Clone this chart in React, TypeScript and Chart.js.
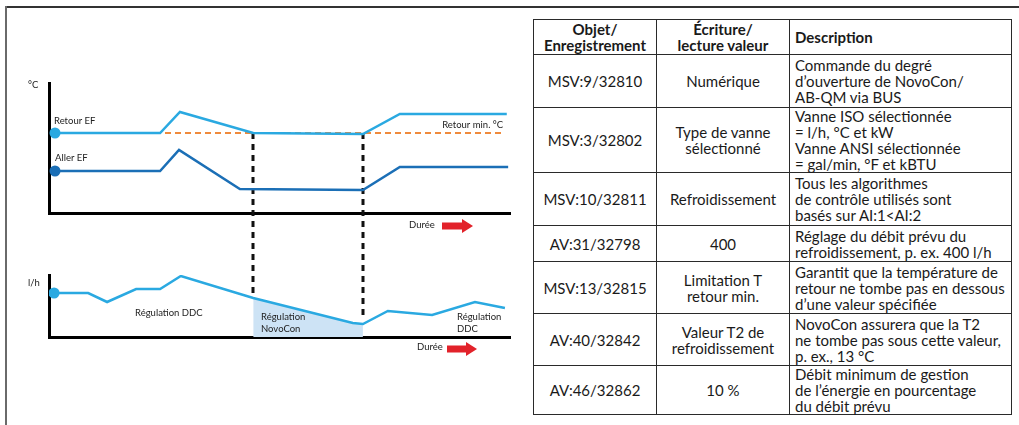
import React, { useEffect, useRef } from "react";
import { Chart, registerables } from "chart.js";
Chart.register(...registerables);

// ---------- Data (time axis in arbitrary units 0–100) ----------
const RETOUR_TIME = [1.3, 24.1, 28.4, 44.3, 68.1, 76.1, 99.3];
const RETOUR_EF = [80, 80, 101, 80, 79, 99, 99];
const ALLER_TIME = [1.3, 24.1, 28.2, 41.4, 68.1, 76.1, 99.6];
const ALLER_EF = [42, 42, 63, 24, 23, 46, 46];
const RETOUR_MIN_TIME = [1.3, 98.5];
const RETOUR_MIN = 80;

const FLOW_TIME = [1.1, 8.5, 12.6, 18.9, 24.1, 28.6, 44.3, 65.9, 68.1, 73.5, 83.1, 92.4, 98.9];
const FLOW = [44, 44, 35, 48, 48, 61, 39, 14, 13, 26, 22, 35, 29];

const NOVOCON_START = 44.3;
const NOVOCON_END = 68.1;

const TEMP_MAX = 130;
const FLOW_MAX = 62;

// ---------- Table ----------
const HEADERS = [["Objet/", "Enregistrement"], ["Écriture/", "lecture valeur"], ["Description"]];
const OBJECTS = ["MSV:9/32810", "MSV:3/32802", "MSV:10/32811", "AV:31/32798", "MSV:13/32815", "AV:40/32842", "AV:46/32862"];
const VALUES = [
  ["Numérique"],
  ["Type de vanne", "sélectionné"],
  ["Refroidissement"],
  ["400"],
  ["Limitation T", "retour min."],
  ["Valeur T2 de", "refroidissement"],
  ["10 %"],
];
const DESCRIPTIONS = [
  ["Commande du degré", "d’ouverture de NovoCon/", "AB-QM via BUS"],
  ["Vanne ISO sélectionnée", "= l/h, °C et kW", "Vanne ANSI sélectionnée", "= gal/min, °F et kBTU"],
  ["Tous les algorithmes", "de contrôle utilisés sont", "basés sur AI:1<AI:2"],
  ["Réglage du débit prévu du", "refroidissement, p. ex. 400 l/h"],
  ["Garantit que la température de", "retour ne tombe pas en dessous", "d’une valeur spécifiée"],
  ["NovoCon assurera que la T2", "ne tombe pas sous cette valeur,", "p. ex., 13 °C"],
  ["Débit minimum de gestion", "de l’énergie en pourcentage", "du débit prévu"],
];
const ROW_HEIGHTS = [35, 53, 65, 53, 36, 52, 52, 49];

const LIGHT_BLUE = "#2aa9e1";
const DARK_BLUE = "#1b6fb6";
const ORANGE = "#ef8a3c";
const FILL = "#cde3f5";
const RED = "#e2222a";
const LABEL_FONT = "9.5px Lato";
const LABEL_COLOR = "#222";

const pts = (xs: number[], ys: number[]) => xs.map((x, i) => ({ x, y: ys[i] }));

function drawArrow(ctx: CanvasRenderingContext2D, x: number, cy: number, len: number) {
  ctx.save();
  ctx.fillStyle = RED;
  const head = 10;
  ctx.fillRect(x, cy - 3.5, len - head, 7);
  ctx.beginPath();
  ctx.moveTo(x + len - head - 1, cy - 7);
  ctx.lineTo(x + len, cy);
  ctx.lineTo(x + len - head - 1, cy + 7);
  ctx.closePath();
  ctx.fill();
  ctx.restore();
}

function axisScales(yMax: number) {
  return {
    x: {
      type: "linear" as const,
      min: 0,
      max: 100,
      grid: { display: false },
      ticks: { display: false },
      border: { color: "#000", width: 3 },
      afterFit: (s: any) => {
        s.height = 0;
      },
    },
    y: {
      type: "linear" as const,
      min: 0,
      max: yMax,
      grid: { display: false },
      ticks: { display: false },
      border: { color: "#000", width: 3 },
      afterFit: (s: any) => {
        s.width = 0;
      },
    },
  };
}

const firstPoint = (r: number) => (c: any) => (c.dataIndex === 0 ? r : 0);

export default function App() {
  const topRef = useRef<HTMLCanvasElement>(null);
  const botRef = useRef<HTMLCanvasElement>(null);

  useEffect(() => {
    const topPlugin = {
      id: "topDecor",
      beforeDatasetsDraw(chart: any) {
        const { ctx, scales } = chart;
        const { x, y } = scales;
        ctx.save();
        ctx.strokeStyle = "#111";
        ctx.lineWidth = 3;
        ctx.setLineDash([6, 5]);
        [NOVOCON_START, NOVOCON_END].forEach((t) => {
          const px = Math.round(x.getPixelForValue(t));
          ctx.beginPath();
          ctx.moveTo(px, y.getPixelForValue(RETOUR_MIN));
          ctx.lineTo(px, chart.height);
          ctx.stroke();
        });
        ctx.restore();
      },
      afterDraw(chart: any) {
        const { ctx, chartArea: a, scales } = chart;
        const { x, y } = scales;
        ctx.save();
        ctx.font = LABEL_FONT;
        ctx.fillStyle = LABEL_COLOR;
        ctx.textBaseline = "middle";
        ctx.textAlign = "left";
        ctx.fillText("°C", a.left - 21, a.top + 2);
        ctx.fillText("Retour EF", x.getPixelForValue(RETOUR_TIME[0]) - 1, y.getPixelForValue(RETOUR_EF[0]) - 12);
        ctx.fillText("Aller EF", x.getPixelForValue(ALLER_TIME[0]), y.getPixelForValue(ALLER_EF[0]) - 13);
        ctx.textAlign = "right";
        ctx.fillText("Retour min. °C", x.getPixelForValue(RETOUR_MIN_TIME[1]), y.getPixelForValue(RETOUR_MIN) - 8);
        ctx.textAlign = "left";
        ctx.fillText("Durée", 409, a.bottom + 12);
        drawArrow(ctx, 442, a.bottom + 13, 31);
        ctx.restore();
      },
    };

    const botPlugin = {
      id: "botDecor",
      beforeDatasetsDraw(chart: any) {
        const { ctx, scales } = chart;
        const { x, y } = scales;
        ctx.save();
        ctx.strokeStyle = "#111";
        ctx.lineWidth = 3;
        ctx.setLineDash([6, 5]);
        ctx.lineDashOffset = 6;
        [NOVOCON_START, NOVOCON_END].forEach((t) => {
          const i = FLOW_TIME.indexOf(t);
          const px = Math.round(x.getPixelForValue(t));
          ctx.beginPath();
          ctx.moveTo(px, 0);
          ctx.lineTo(px, y.getPixelForValue(FLOW[i]) - 4);
          ctx.stroke();
        });
        ctx.restore();
      },
      afterDraw(chart: any) {
        const { ctx, chartArea: a } = chart;
        ctx.save();
        ctx.font = LABEL_FONT;
        ctx.fillStyle = LABEL_COLOR;
        ctx.textBaseline = "middle";
        ctx.textAlign = "left";
        ctx.fillText("l/h", a.left - 21, a.top + 8);
        ctx.fillText("Régulation DDC", 135, a.top + 38);
        ctx.fillText("Régulation", 261, a.top + 42);
        ctx.fillText("NovoCon", 261, a.top + 54);
        ctx.fillText("Régulation", 457, a.top + 42);
        ctx.fillText("DDC", 457, a.top + 54);
        ctx.fillText("Durée", 417, a.bottom + 10);
        drawArrow(ctx, 447, a.bottom + 12, 30);
        ctx.restore();
      },
    };

    const common = {
      animation: false as const,
      responsive: false,
      maintainAspectRatio: false,
      plugins: { legend: { display: false }, tooltip: { enabled: false } },
      elements: { line: { tension: 0 } },
    };

    const top = new Chart(topRef.current!, {
      type: "line",
      data: {
        datasets: [
          {
            label: "Retour EF",
            data: pts(RETOUR_TIME, RETOUR_EF),
            borderColor: LIGHT_BLUE,
            backgroundColor: LIGHT_BLUE,
            borderWidth: 2.5,
            pointRadius: firstPoint(5.5),
            pointBorderWidth: 0,
            order: 1,
          },
          {
            label: "Aller EF",
            data: pts(ALLER_TIME, ALLER_EF),
            borderColor: DARK_BLUE,
            backgroundColor: DARK_BLUE,
            borderWidth: 2.5,
            pointRadius: firstPoint(5.5),
            pointBorderWidth: 0,
            order: 1,
          },
          {
            label: "Retour min. °C",
            data: RETOUR_MIN_TIME.map((x) => ({ x, y: RETOUR_MIN })),
            borderColor: ORANGE,
            borderWidth: 2,
            borderDash: [6, 4],
            pointRadius: 0,
            order: 2,
          },
        ],
      },
      options: {
        ...common,
        layout: { padding: { left: 49, right: 15, top: 83, bottom: 47 } },
        scales: axisScales(TEMP_MAX),
      },
      plugins: [topPlugin],
    } as any);

    const novo = pts(FLOW_TIME, FLOW).filter((p) => p.x >= NOVOCON_START && p.x <= NOVOCON_END);

    const bot = new Chart(botRef.current!, {
      type: "line",
      data: {
        datasets: [
          {
            label: "Débit",
            data: pts(FLOW_TIME, FLOW),
            borderColor: LIGHT_BLUE,
            backgroundColor: LIGHT_BLUE,
            borderWidth: 2.5,
            pointRadius: firstPoint(5.5),
            pointBorderWidth: 0,
            order: 1,
          },
          {
            label: "Régulation NovoCon",
            data: novo,
            borderWidth: 0,
            borderColor: "rgba(0,0,0,0)",
            backgroundColor: FILL,
            fill: "origin",
            pointRadius: 0,
            order: 3,
          },
        ],
      },
      options: {
        ...common,
        layout: { padding: { left: 49, right: 15, top: 15, bottom: 88 } },
        scales: axisScales(FLOW_MAX),
      },
      plugins: [botPlugin],
    } as any);

    return () => {
      top.destroy();
      bot.destroy();
    };
  }, []);

  const cell: React.CSSProperties = {
    border: "1.5px solid #2a2a2a",
    padding: "0 5px",
    verticalAlign: "middle",
    whiteSpace: "nowrap",
    lineHeight: "16px",
  };

  return (
    <div
      style={{
        position: "fixed",
        left: 0,
        top: 0,
        width: 1019,
        height: 425,
        background: "#fff",
        overflow: "hidden",
        fontFamily: "Lato, 'Noto Sans', sans-serif",
        color: "#1a1a1a",
      }}
    >
      <div style={{ position: "absolute", left: 5, top: 6, width: 1014, height: 1.5, background: "#333" }} />
      <div style={{ position: "absolute", left: 5, top: 6, width: 2, height: 419, background: "#6a6a6a" }} />
      <canvas
        ref={topRef}
        width={525}
        height={260}
        style={{ position: "absolute", left: 0, top: 0, width: 525, height: 260 }}
      />
      <canvas
        ref={botRef}
        width={525}
        height={165}
        style={{ position: "absolute", left: 0, top: 260, width: 525, height: 165 }}
      />
      <table
        style={{
          position: "absolute",
          left: 533,
          top: 19,
          width: 478,
          borderCollapse: "collapse",
          tableLayout: "fixed",
          fontSize: 15,
        }}
      >
        <colgroup>
          <col style={{ width: 123 }} />
          <col style={{ width: 133 }} />
          <col style={{ width: 222 }} />
        </colgroup>
        <tbody>
          <tr style={{ height: ROW_HEIGHTS[0] }}>
            {HEADERS.map((h, i) => (
              <td
                key={i}
                style={{ ...cell, fontWeight: 700, textAlign: i < 2 ? "center" : "left" }}
              >
                {h.map((l, j) => (
                  <React.Fragment key={j}>
                    {j > 0 && <br />}
                    {l}
                  </React.Fragment>
                ))}
              </td>
            ))}
          </tr>
          {OBJECTS.map((o, r) => (
            <tr key={r} style={{ height: ROW_HEIGHTS[r + 1] }}>
              <td style={{ ...cell, textAlign: "center" }}>{o}</td>
              <td style={{ ...cell, textAlign: "center" }}>
                {VALUES[r].map((l, j) => (
                  <React.Fragment key={j}>
                    {j > 0 && <br />}
                    {l}
                  </React.Fragment>
                ))}
              </td>
              <td style={{ ...cell, textAlign: "left" }}>
                {DESCRIPTIONS[r].map((l, j) => (
                  <React.Fragment key={j}>
                    {j > 0 && <br />}
                    {l}
                  </React.Fragment>
                ))}
              </td>
            </tr>
          ))}
        </tbody>
      </table>
    </div>
  );
}
